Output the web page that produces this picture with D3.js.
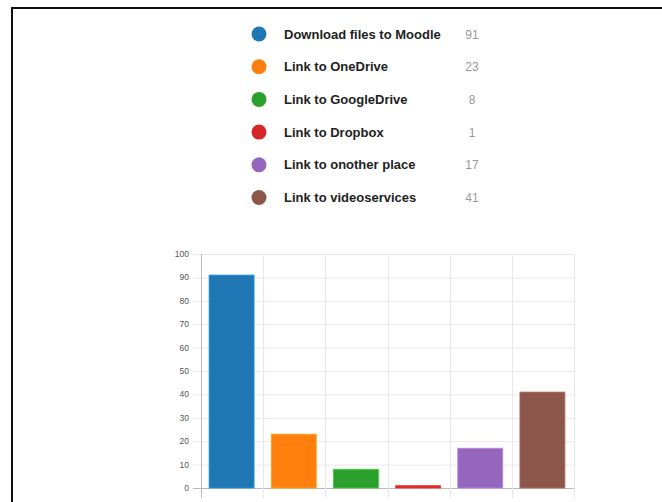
<!DOCTYPE html>
<html>
<head>
<meta charset="utf-8">
<script src="https://cdn.jsdelivr.net/npm/d3@7"></script>
<style>
	html, body { margin: 0; padding: 0; background: #fff; }
	svg { display: block; font-family: "Liberation Sans", Arial, sans-serif; }
</style>
</head>
<body>
<svg id="chart" width="662" height="502"></svg>
<script>
// answers and counts
const categories = ["Download files to Moodle", "Link to OneDrive", "Link to GoogleDrive",
	"Link to Dropbox", "Link to onother place", "Link to videoservices"];
const counts = [91, 23, 8, 1, 17, 41];
const colors = ["#1f77b4", "#ff7f0e", "#2ca02c", "#d62728", "#9467bd", "#8c564b"];
const yTicks = [0, 10, 20, 30, 40, 50, 60, 70, 80, 90, 100];

let svg = d3.select("#chart");

// frame (only top and left edges show in the shot)
svg.append("path")
	.attr("d", "M12,502V8H662")
	.attr("fill", "none")
	.attr("stroke", "#111")
	.attr("stroke-width", 2);

// legend
let legend = svg.append("g").attr("class", "legend");
let rowY = d3.scalePoint().domain(categories).range([34, 197.5]);

let rows = legend.selectAll("g")
	.data(categories)
	.enter().append("g")
	.attr("transform", d => "translate(0," + rowY(d) + ")");

rows.append("circle")
	.attr("cx", 259)
	.attr("r", 7.5)
	.attr("fill", (d, i) => colors[i]);

rows.append("text")
	.attr("x", 284)
	.attr("y", 4.5)
	.attr("font-size", 13)
	.attr("font-weight", "bold")
	.attr("fill", "#222")
	.text(d => d);

rows.append("text")
	.attr("x", 472)
	.attr("y", 4.5)
	.attr("font-size", 12)
	.attr("text-anchor", "middle")
	.attr("fill", "#999")
	.text((d, i) => counts[i]);

// bar chart
let x = d3.scaleBand().domain(categories).range([201, 574]).padding(0);
let y = d3.scaleLinear().domain([0, 100]).range([488, 254]);

let grid = svg.append("g").attr("class", "grid");

grid.selectAll("line.h")
	.data(yTicks)
	.enter().append("line")
	.attr("class", "h")
	.attr("x1", 193).attr("x2", 574)
	.attr("y1", d => y(d) + 0.5).attr("y2", d => y(d) + 0.5)
	.attr("stroke", d => d === 0 ? "#bbb" : "#e8e8e8");

let vx = categories.map(c => x(c)).concat([x.range()[1]]);
grid.selectAll("line.v")
	.data(vx)
	.enter().append("line")
	.attr("class", "v")
	.attr("x1", d => Math.round(d) + 0.5).attr("x2", d => Math.round(d) + 0.5)
	.attr("y1", 254).attr("y2", 498)
	.attr("stroke", (d, i) => i === 0 ? "#bbb" : "#e8e8e8");

svg.append("g").selectAll("text")
	.data(yTicks)
	.enter().append("text")
	.attr("x", 189)
	.attr("y", d => y(d) + 3)
	.attr("text-anchor", "end")
	.attr("font-size", 8.5)
	.attr("fill", "#555")
	.text(d => d);

let inset = x.bandwidth() * 0.13;
svg.append("g").attr("class", "bars").selectAll("rect")
	.data(categories)
	.enter().append("rect")
	.attr("x", d => x(d) + inset)
	.attr("width", x.bandwidth() - 2 * inset - 1)
	.attr("y", (d, i) => y(counts[i]))
	.attr("height", (d, i) => y(0) - y(counts[i]))
	.attr("fill", (d, i) => colors[i])
	.attr("stroke", (d, i) => d3.color(colors[i]).brighter(0.7))
	.attr("stroke-width", 0.8);
</script>
</body>
</html>
